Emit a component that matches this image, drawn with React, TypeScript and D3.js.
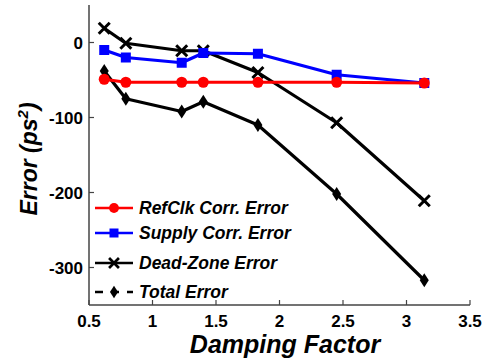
import React, { useRef, useEffect } from 'react';
import * as d3 from 'd3';

const dampingFactor = [0.62, 0.79, 1.23, 1.4, 1.83, 2.45, 3.14];
const refClkError = [-49, -53, -53, -53, -53, -53, -54];
const supplyError = [-10, -20, -27, -14, -15, -43, -54];
const deadZoneError = [19, -1, -11, -11, -40, -107, -211];
const totalError = [-38, -75, -92, -79, -110, -202, -317];
const xTicks = [0.5, 1, 1.5, 2, 2.5, 3, 3.5];
const yTicks = [0, -100, -200, -300];

const seriesNames = ['RefClk Corr. Error', 'Supply Corr. Error', 'Dead-Zone Error', 'Total Error'];
const seriesColors = ['#ff0000', '#0000ff', '#000000', '#000000'];
const seriesMarkers = ['circle', 'square', 'cross', 'diamond'];

const App: React.FC = () => {
    const svgRef = useRef<SVGSVGElement>(null);

    useEffect(() => {
        const width = 488;
        const height = 362;
        const margin = { top: 5, right: 18, bottom: 57, left: 89 };
        const font = '"Liberation Sans", Arial, sans-serif';

        const svg = d3.select(svgRef.current);
        svg.selectAll('*').remove();
        svg.attr('width', width).attr('height', height);

        const x = d3.scaleLinear().domain([0.5, 3.5]).range([margin.left, width - margin.right]);
        const y = d3.scaleLinear().domain([-350, 50]).range([height - margin.bottom, margin.top]);

        const allSeries = [refClkError, supplyError, deadZoneError, totalError];

        // draw a marker of given kind at (cx, cy)
        const drawMarker = (g: any, kind: string, cx: number, cy: number, color: string, s: number) => {
            if (kind === 'circle') {
                g.append('circle').attr('cx', cx).attr('cy', cy).attr('r', 5.5 * s).attr('fill', color);
            } else if (kind === 'square') {
                const h = 5 * s;
                g.append('rect').attr('x', cx - h).attr('y', cy - h).attr('width', 2 * h).attr('height', 2 * h).attr('fill', color);
            } else if (kind === 'cross') {
                const h = 5.5 * s;
                g.append('path')
                    .attr('d', `M${cx - h},${cy - h}L${cx + h},${cy + h}M${cx - h},${cy + h}L${cx + h},${cy - h}`)
                    .attr('stroke', color).attr('stroke-width', 3 * s).attr('fill', 'none');
            } else {
                const w = 4.5 * s, h = 7 * s;
                g.append('path')
                    .attr('d', `M${cx},${cy - h}L${cx + w},${cy}L${cx},${cy + h}L${cx - w},${cy}Z`)
                    .attr('fill', color);
            }
        };

        const line = d3.line<number>()
            .x((_, i) => x(dampingFactor[i]))
            .y(d => y(d));

        // draw order: total, deadzone, supply, refclk (red on top)
        [3, 2, 1, 0].forEach(si => {
            const g = svg.append('g');
            g.append('path')
                .datum(allSeries[si])
                .attr('fill', 'none')
                .attr('stroke', seriesColors[si])
                .attr('stroke-width', 3.2)
                .attr('stroke-linejoin', 'round')
                .attr('d', line);
            allSeries[si].forEach((v, i) => drawMarker(g, seriesMarkers[si], x(dampingFactor[i]), y(v), seriesColors[si], 1));
        });

        // axes
        const axisColor = '#444';
        const axes = svg.append('g');
        axes.append('line')
            .attr('x1', x(0.5)).attr('x2', x(3.5))
            .attr('y1', y(-350)).attr('y2', y(-350))
            .attr('stroke', axisColor).attr('stroke-width', 1.5);
        axes.append('line')
            .attr('x1', x(0.5)).attr('x2', x(0.5))
            .attr('y1', y(-350)).attr('y2', y(50))
            .attr('stroke', axisColor).attr('stroke-width', 1.5);

        xTicks.forEach(t => {
            axes.append('line')
                .attr('x1', x(t)).attr('x2', x(t))
                .attr('y1', y(-350)).attr('y2', y(-350) - 5)
                .attr('stroke', axisColor).attr('stroke-width', 1.2);
            axes.append('text')
                .attr('x', x(t)).attr('y', y(-350) + 22)
                .attr('text-anchor', 'middle')
                .style('font-family', font).style('font-size', '17px').style('font-weight', 'bold')
                .text(String(t));
        });
        yTicks.forEach(t => {
            axes.append('line')
                .attr('x1', x(0.5)).attr('x2', x(0.5) + 5)
                .attr('y1', y(t)).attr('y2', y(t))
                .attr('stroke', axisColor).attr('stroke-width', 1.2);
            axes.append('text')
                .attr('x', x(0.5) - 6).attr('y', y(t) + 6)
                .attr('text-anchor', 'end')
                .style('font-family', font).style('font-size', '17px').style('font-weight', 'bold')
                .text(String(t));
        });

        // axis titles
        svg.append('text')
            .attr('x', 285).attr('y', 353)
            .attr('text-anchor', 'middle')
            .style('font-family', font).style('font-size', '25px').style('font-weight', 'bold').style('font-style', 'italic')
            .text('Damping Factor');

        const yt = svg.append('text')
            .attr('transform', 'translate(37,159) rotate(-90)')
            .attr('text-anchor', 'middle')
            .style('font-family', font).style('font-size', '23px').style('font-weight', 'bold').style('font-style', 'italic');
        yt.append('tspan').text('Error (ps');
        yt.append('tspan').attr('dy', -9).style('font-size', '15px').text('2');
        yt.append('tspan').attr('dy', 9).text(')');

        // legend
        const legendY = [208, 233, 263, 292];
        seriesNames.forEach((name, i) => {
            const g = svg.append('g');
            g.append('line')
                .attr('x1', 95).attr('x2', 133)
                .attr('y1', legendY[i]).attr('y2', legendY[i])
                .attr('stroke', seriesColors[i]).attr('stroke-width', 2.5)
                .attr('stroke-dasharray', i === 3 ? '8,8' : null);
            drawMarker(g, seriesMarkers[i], 114, legendY[i], seriesColors[i], 0.9);
            g.append('text')
                .attr('x', 139).attr('y', legendY[i] + 6)
                .style('font-family', font).style('font-size', '17.5px').style('font-weight', 'bold').style('font-style', 'italic')
                .text(name);
        });
    }, []);

    return (
        <svg ref={svgRef} style={{ position: 'absolute', left: 0, top: 0, background: '#fff' }} />
    );
};

export default App;
